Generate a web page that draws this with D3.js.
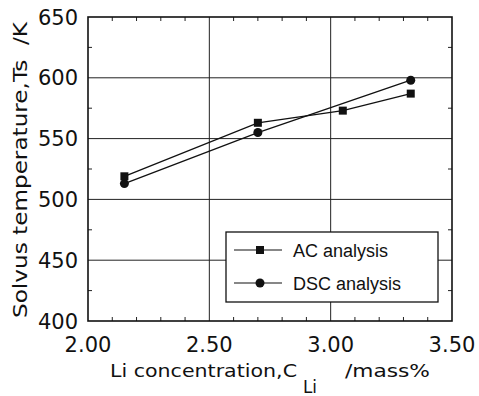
<!DOCTYPE html>
<html>
<head>
<meta charset="utf-8">
<script src="https://cdn.jsdelivr.net/npm/d3@7"></script>
<style>
  body { margin: 0; background: #fff; }
  svg { display: block; }
  .tick-label { font-family: "DejaVu Sans", sans-serif; font-size: 21px; fill: #111; }
  .title { font-family: "DejaVu Sans", sans-serif; font-size: 17px; fill: #111; }
  .legend-text { font-family: "Liberation Sans Narrow", "Liberation Sans", Arial, sans-serif; font-size: 18px; fill: #111; }
</style>
</head>
<body>
<div id="chart"></div>
<script>
// Data
const acLi = [2.15, 2.70, 3.05, 3.33];
const acTemp = [519, 563, 573, 587];
const dscLi = [2.15, 2.70, 3.33];
const dscTemp = [513, 555, 598];

const xTicks = [2.0, 2.5, 3.0, 3.5];
const yTicks = [400, 450, 500, 550, 600, 650];
const legendLabels = ["AC analysis", "DSC analysis"];

(function () {
  const W = 479, H = 396;
  const svg = d3.select("#chart").append("svg").attr("width", W).attr("height", H);

  const x = d3.scaleLinear().domain([2.0, 3.5]).range([88, 452]);
  const y = d3.scaleLinear().domain([400, 650]).range([321, 17]);

  // gridlines
  const grid = svg.append("g").attr("stroke", "#222").attr("stroke-width", 1);
  grid.selectAll("line.gx").data(xTicks.slice(1, -1)).join("line")
    .attr("x1", d => x(d)).attr("x2", d => x(d))
    .attr("y1", y(400)).attr("y2", y(650));
  grid.selectAll("line.gy").data(yTicks.slice(1, -1)).join("line")
    .attr("y1", d => y(d)).attr("y2", d => y(d))
    .attr("x1", x(2.0)).attr("x2", x(3.5));

  // minor ticks, inward on all sides
  const minorX = d3.range(2.1, 3.45, 0.1).filter(v => Math.abs(v * 2 - Math.round(v * 2)) > 1e-6);
  const minorY = d3.range(425, 650, 50);
  const tk = svg.append("g").attr("stroke", "#222").attr("stroke-width", 1);
  minorX.forEach(v => {
    tk.append("line").attr("x1", x(v)).attr("x2", x(v)).attr("y1", y(400)).attr("y2", y(400) - 4);
    tk.append("line").attr("x1", x(v)).attr("x2", x(v)).attr("y1", y(650)).attr("y2", y(650) + 4);
  });
  minorY.forEach(v => {
    tk.append("line").attr("y1", y(v)).attr("y2", y(v)).attr("x1", x(2.0)).attr("x2", x(2.0) + 4);
    tk.append("line").attr("y1", y(v)).attr("y2", y(v)).attr("x1", x(3.5)).attr("x2", x(3.5) - 4);
  });

  // frame
  svg.append("rect")
    .attr("x", x(2.0)).attr("y", y(650))
    .attr("width", x(3.5) - x(2.0)).attr("height", y(400) - y(650))
    .attr("fill", "none").attr("stroke", "#111").attr("stroke-width", 1.6);

  // tick labels
  svg.selectAll("text.yl").data(yTicks).join("text")
    .attr("class", "tick-label")
    .attr("x", 78).attr("y", d => y(d) + 7.5)
    .attr("text-anchor", "end")
    .text(d => d);
  svg.selectAll("text.xl").data(xTicks).join("text")
    .attr("class", "tick-label")
    .attr("x", d => x(d)).attr("y", 352)
    .attr("text-anchor", "middle")
    .text(d3.format(".2f"));

  // axis titles (reference face is wide, so stretch to measured lengths)
  svg.append("text").attr("class", "title")
    .style("font-size", "19px")
    .attr("transform", "translate(27,170) rotate(-90)")
    .attr("text-anchor", "middle")
    .attr("xml:space", "preserve")
    .attr("textLength", 296).attr("lengthAdjust", "spacingAndGlyphs")
    .text("Solvus temperature,Ts  /K");

  svg.append("text").attr("class", "title")
    .attr("x", 110).attr("y", 377)
    .attr("textLength", 187).attr("lengthAdjust", "spacingAndGlyphs")
    .text("Li concentration,C");
  svg.append("text").attr("class", "title")
    .attr("x", 303).attr("y", 393)
    .attr("textLength", 14).attr("lengthAdjust", "spacingAndGlyphs")
    .text("Li");
  svg.append("text").attr("class", "title")
    .attr("x", 345).attr("y", 377)
    .attr("textLength", 85).attr("lengthAdjust", "spacingAndGlyphs")
    .text("/mass%");

  // series
  const line = d3.line().x(d => x(d[0])).y(d => y(d[1]));
  const ac = d3.zip(acLi, acTemp);
  const dsc = d3.zip(dscLi, dscTemp);

  svg.append("path").datum(ac).attr("d", line)
    .attr("fill", "none").attr("stroke", "#111").attr("stroke-width", 1.3);
  svg.append("path").datum(dsc).attr("d", line)
    .attr("fill", "none").attr("stroke", "#111").attr("stroke-width", 1.3);

  const sq = 8;
  svg.selectAll("rect.ac").data(ac).join("rect")
    .attr("x", d => x(d[0]) - sq / 2).attr("y", d => y(d[1]) - sq / 2)
    .attr("width", sq).attr("height", sq).attr("fill", "#111");
  svg.selectAll("circle.dsc").data(dsc).join("circle")
    .attr("cx", d => x(d[0])).attr("cy", d => y(d[1]))
    .attr("r", 4.5).attr("fill", "#111");

  // legend
  const lg = svg.append("g").attr("transform", "translate(226,232)");
  lg.append("rect").attr("width", 212).attr("height", 70)
    .attr("fill", "#fff").attr("stroke", "#111").attr("stroke-width", 1.3);
  legendLabels.forEach((lab, i) => {
    const ly = 18 + i * 33;
    lg.append("line").attr("x1", 8).attr("x2", 56).attr("y1", ly).attr("y2", ly)
      .attr("stroke", "#111").attr("stroke-width", 1.2);
    if (i === 0) {
      lg.append("rect").attr("x", 34 - 4).attr("y", ly - 4).attr("width", 8).attr("height", 8).attr("fill", "#111");
    } else {
      lg.append("circle").attr("cx", 34).attr("cy", ly).attr("r", 4.5).attr("fill", "#111");
    }
    lg.append("text").attr("class", "legend-text")
      .attr("x", 67).attr("y", ly + 6.5).text(lab);
  });
})();
</script>
</body>
</html>
